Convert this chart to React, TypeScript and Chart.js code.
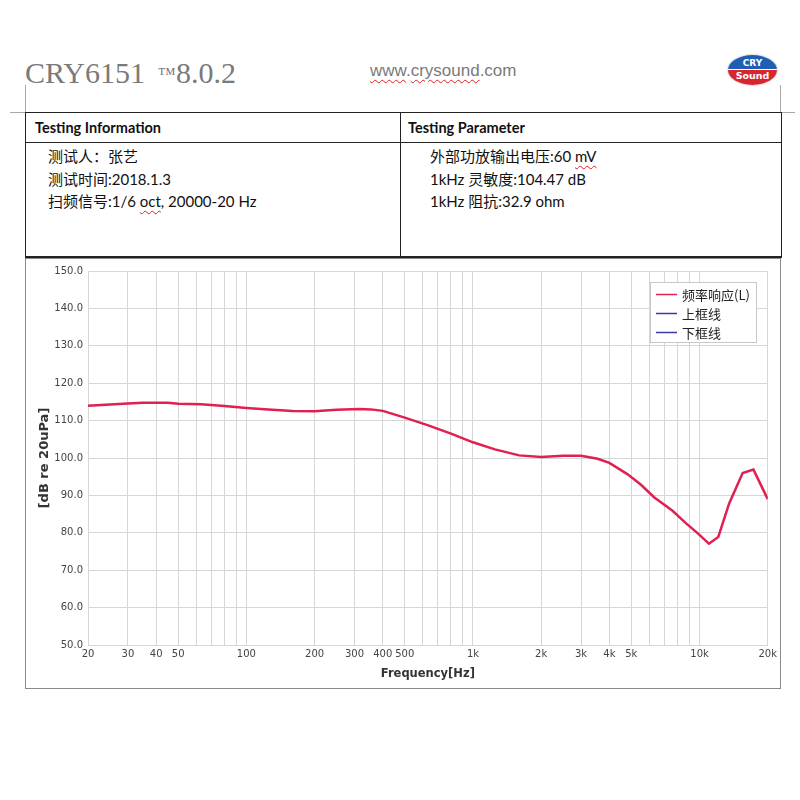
import React, { useEffect, useRef } from "react";
import { Chart, registerables } from "chart.js";

Chart.register(...registerables);

// ---- data ----
const freqs = [20, 25, 30, 35, 40, 45, 50, 63, 80, 100, 125, 160, 200, 250, 315, 355, 400, 500, 630, 800, 1000, 1250, 1600, 2000, 2500, 3000, 3550, 4000, 4800, 5500, 6300, 7600, 8700, 9800, 11000, 12100, 13500, 15500, 17300, 20000];
const spl = [114.0, 114.3, 114.6, 114.8, 114.8, 114.8, 114.5, 114.4, 113.9, 113.4, 113.0, 112.6, 112.5, 112.9, 113.1, 113.0, 112.6, 110.8, 108.8, 106.5, 104.2, 102.3, 100.7, 100.3, 100.6, 100.6, 99.8, 98.7, 95.7, 92.9, 89.5, 85.9, 82.6, 79.9, 77.1, 78.9, 87.8, 96.0, 96.9, 89.0];
const seriesNames = ["频率响应(L)", "上框线", "下框线"];
const seriesColors = ["#e0204f", "#3a3aa8", "#3a3aa8"];
const xGridValues = [20, 30, 40, 50, 60, 70, 80, 90, 100, 200, 300, 400, 500, 600, 700, 800, 900, 1000, 2000, 3000, 4000, 5000, 6000, 7000, 8000, 9000, 10000, 20000];
const xTickValues = [20, 30, 40, 50, 100, 200, 300, 400, 500, 1000, 2000, 3000, 4000, 5000, 10000, 20000];
const xTickLabels = ["20", "30", "40", "50", "100", "200", "300", "400", "500", "1k", "2k", "3k", "4k", "5k", "10k", "20k"];
const yMin = 50;
const yMax = 150;
const yStep = 10;

const infoLeft = ["测试人：张艺", "测试时间:2018.1.3", "扫频信号:1/6 oct, 20000-20 Hz"];
const infoRight = ["外部功放输出电压:60 mV", "1kHz 灵敏度:104.47 dB", "1kHz 阻抗:32.9 ohm"];

const legendPlugin = {
  id: "boxLegend",
  afterDraw(chart: any) {
    const { ctx, chartArea } = chart;
    const w = 107;
    const h = 61;
    const x0 = Math.round(chartArea.right - 11 - w);
    const y0 = Math.round(chartArea.top + 11);
    ctx.save();
    ctx.fillStyle = "#ffffff";
    ctx.fillRect(x0, y0, w, h);
    ctx.strokeStyle = "#c8c8c8";
    ctx.lineWidth = 1;
    ctx.strokeRect(x0 + 0.5, y0 + 0.5, w - 1, h - 1);
    chart.data.datasets.forEach((ds: any, i: number) => {
      const y = y0 + 12 + i * 19;
      ctx.strokeStyle = ds.borderColor;
      ctx.lineWidth = 1.5;
      ctx.beginPath();
      ctx.moveTo(x0 + 6, y + 0.5);
      ctx.lineTo(x0 + 27, y + 0.5);
      ctx.stroke();
      ctx.fillStyle = "#222";
      ctx.font = "13px 'Noto Sans CJK SC'";
      ctx.textBaseline = "middle";
      ctx.textAlign = "left";
      ctx.fillText(ds.label, x0 + 32, y + 1);
    });
    ctx.restore();
  },
};

function FreqChart() {
  const ref = useRef<HTMLCanvasElement>(null);
  useEffect(() => {
    if (!ref.current) return;
    const gridColor = "#d6d6d6";
    const chart = new Chart(ref.current, {
      type: "line",
      data: {
        datasets: seriesNames.map((name, i) => ({
          label: name,
          data: i === 0 ? freqs.map((f, k) => ({ x: f, y: spl[k] })) : [],
          borderColor: seriesColors[i],
          backgroundColor: seriesColors[i],
          borderWidth: 2.5,
          pointRadius: 0,
          tension: 0,
          fill: false,
        })),
      },
      options: {
        animation: false,
        responsive: false,
        devicePixelRatio: 1,
        layout: { padding: { left: 0, right: 11, top: 12, bottom: 0 } },
        plugins: { legend: { display: false }, tooltip: { enabled: false } },
        scales: {
          x: {
            type: "logarithmic",
            min: 20,
            max: 20000,
            afterBuildTicks: (scale: any) => {
              scale.ticks = xGridValues.map((v) => ({ value: v }));
            },
            afterFit: (scale: any) => {
              scale.height = 43;
            },
            grid: { color: gridColor, drawTicks: false, lineWidth: 1 },
            border: { color: gridColor },
            ticks: {
              autoSkip: false,
              maxRotation: 0,
              padding: 3,
              color: "#444",
              font: { family: "'DejaVu Sans'", size: 10 },
              callback: (v: any) => {
                const idx = xTickValues.indexOf(Number(v));
                return idx >= 0 ? xTickLabels[idx] : "";
              },
            },
            title: {
              display: true,
              text: "Frequency[Hz]",
              color: "#333",
              font: { family: "'DejaVu Sans'", size: 11.5, weight: "bold" },
              padding: { top: 0, bottom: 7 },
            },
          },
          y: {
            min: yMin,
            max: yMax,
            afterFit: (scale: any) => {
              scale.width = 62;
            },
            grid: { color: gridColor, drawTicks: false },
            border: { color: gridColor },
            ticks: {
              stepSize: yStep,
              padding: 5,
              color: "#444",
              font: { family: "'DejaVu Sans'", size: 10 },
              callback: (v: any) => Number(v).toFixed(1),
            },
            title: {
              display: true,
              text: "[dB re 20uPa]",
              color: "#333",
              font: { family: "'DejaVu Sans'", size: 13, weight: "bold" },
              padding: { top: 11, bottom: 0 },
            },
          },
        },
      },
      plugins: [legendPlugin],
    } as any);
    return () => chart.destroy();
  }, []);
  return <canvas ref={ref} width={754} height={429} style={{ display: "block", width: 754, height: 429 }} />;
}

const abs = (o: React.CSSProperties): React.CSSProperties => ({ position: "absolute", ...o });
const squiggle: React.CSSProperties = {
  textDecorationLine: "underline",
  textDecorationStyle: "wavy",
  textDecorationColor: "#e02020",
  textDecorationThickness: "1px",
  textUnderlineOffset: "3px",
};

function renderLine(text: string) {
  const parts = text.split(/(oct|mV)/);
  return parts.map((p, i) =>
    p === "oct" || p === "mV" ? (
      <span key={i} style={squiggle}>
        {p}
      </span>
    ) : (
      <span key={i}>{p}</span>
    )
  );
}

export default function App() {
  const tableFont = "Lato, 'Noto Sans CJK SC', sans-serif";
  return (
    <div style={abs({ left: 0, top: 0, width: 800, height: 800, background: "#fff", overflow: "hidden" })}>
      {/* header */}
      <div style={abs({ left: 25, top: 58, fontFamily: "'Liberation Serif'", fontSize: 30, lineHeight: "30px", color: "#7a7a7a", whiteSpace: "nowrap" })}>
        CRY6151
      </div>
      <div style={abs({ left: 158, top: 65, fontFamily: "'Liberation Serif'", fontSize: 18, lineHeight: "18px", color: "#7a7a7a" })}>™</div>
      <div style={abs({ left: 176, top: 58, fontFamily: "'Liberation Serif'", fontSize: 30, lineHeight: "30px", color: "#7a7a7a" })}>8.0.2</div>
      <div style={abs({ left: 370, top: 62, fontFamily: "'Liberation Sans'", fontSize: 17, lineHeight: "17px", color: "#7a7a7a", whiteSpace: "nowrap" })}>
        <span style={squiggle}>www</span>.<span style={squiggle}>crysound</span>.com
      </div>
      {/* logo */}
      <div
        style={abs({
          left: 728,
          top: 55,
          width: 49,
          height: 30,
          borderRadius: "50%",
          overflow: "hidden",
          background: "linear-gradient(#1f5fb3 0%, #1f5fb3 50%, #d7262e 50%, #d7262e 100%)",
          boxShadow: "0 0 2px #999",
        })}
      >
        <div style={abs({ left: 0, top: 2, width: 49, textAlign: "center", color: "#fff", fontFamily: "'DejaVu Sans'", fontWeight: "bold", fontSize: 9, lineHeight: "12px" })}>CRY</div>
        <div style={abs({ left: 0, top: 14, width: 49, height: 1, background: "#fff" })} />
        <div style={abs({ left: 0, top: 15, width: 49, textAlign: "center", color: "#fff", fontFamily: "'DejaVu Sans'", fontWeight: "bold", fontSize: 9.5, lineHeight: "12px" })}>Sound</div>
      </div>
      {/* page margin marks */}
      <div style={abs({ left: 25, top: 85, width: 1, height: 28, background: "#a8a8a8" })} />
      <div style={abs({ left: 780, top: 85, width: 1, height: 28, background: "#a8a8a8" })} />
      <div style={abs({ left: 10, top: 112, width: 16, height: 1, background: "#a8a8a8" })} />
      <div style={abs({ left: 781, top: 112, width: 14, height: 1, background: "#a8a8a8" })} />

      {/* table */}
      <div style={abs({ left: 25, top: 112, width: 757, height: 146, border: "1.5px solid #222", borderBottomWidth: 2, boxSizing: "border-box" })} />
      <div style={abs({ left: 25, top: 142, width: 757, height: 1, background: "#222" })} />
      <div style={abs({ left: 400, top: 112, width: 1, height: 146, background: "#222" })} />
      <div style={abs({ left: 35, top: 119, fontFamily: tableFont, fontWeight: "bold", fontSize: 14.5, lineHeight: "18px", color: "#111", whiteSpace: "nowrap" })}>
        Testing Information
      </div>
      <div style={abs({ left: 408, top: 119, fontFamily: tableFont, fontWeight: "bold", fontSize: 14.5, lineHeight: "18px", color: "#111", whiteSpace: "nowrap" })}>
        Testing Parameter
      </div>
      {infoLeft.map((t, i) => (
        <div key={"l" + i} style={abs({ left: 48, top: 145 + i * 22.5, fontFamily: tableFont, fontSize: 15, lineHeight: "22px", color: "#111", whiteSpace: "nowrap" })}>
          {renderLine(t)}
        </div>
      ))}
      {infoRight.map((t, i) => (
        <div key={"r" + i} style={abs({ left: 430, top: 145 + i * 22.5, fontFamily: tableFont, fontSize: 15, lineHeight: "22px", color: "#111", whiteSpace: "nowrap" })}>
          {renderLine(t)}
        </div>
      ))}

      {/* chart frame */}
      <div style={abs({ left: 25, top: 258, width: 756, height: 431, border: "1px solid #8a8a8a", boxSizing: "border-box", background: "#fff" })}>
        <FreqChart />
      </div>
    </div>
  );
}
